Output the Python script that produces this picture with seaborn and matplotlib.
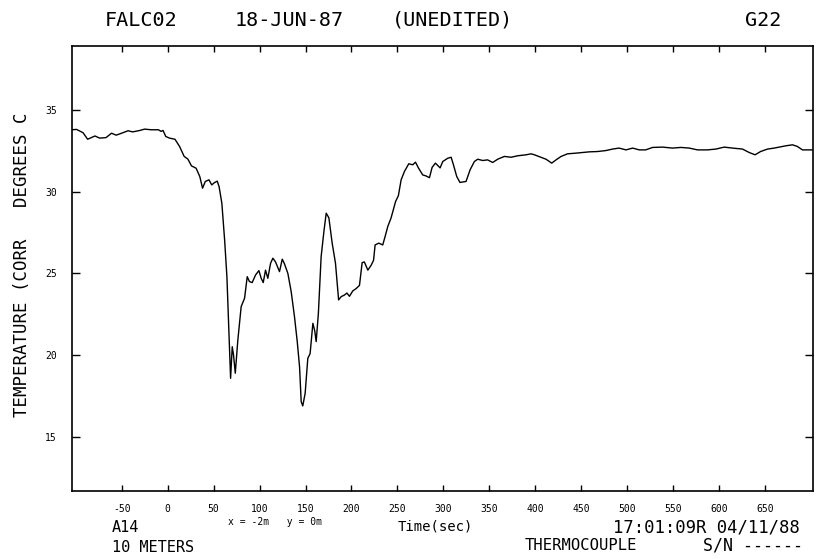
import numpy as np
import pandas as pd
import matplotlib
matplotlib.use("Agg")
import matplotlib.pyplot as plt
import seaborn as sns

# ---- data ----
time_sec = [-105, -99, -92, -87, -79, -74, -67, -61, -56, -50, -43, -38, -30, -25, -18, -10,
            -7, -5, -2, 2, 8, 13, 18, 22, 26, 31, 35, 38, 41, 45, 48, 51, 54, 56, 59, 62,
            64.5, 66.7, 68.5, 70.3, 71.7, 73.6, 76.4, 80, 83.7, 86.6, 89, 92, 95.6, 99.3,
            101.8, 104, 106.5, 109, 112, 114.5, 117.4, 121.7, 124.7, 127, 130.8, 134.4, 138,
            141, 143.5, 145.3, 147, 149.6, 152.5, 155, 158, 160, 161.6, 164, 167, 170, 172.5,
            175.4, 179, 182.6, 186, 188.8, 192.4, 195, 197.8, 201.4, 205, 208.7, 211.6, 214,
            217.8, 221.4, 224, 225.7, 229.7, 234, 236.6, 239.5, 243, 248, 251, 254, 257.6,
            262.3, 266.7, 269.6, 273, 277.5, 281, 284.8, 287.7, 291.3, 296.4, 299.3, 304.7,
            308.4, 310.9, 314.5, 318, 324.6, 329, 333.7, 337.3, 342.8, 348, 353.6, 359, 366.3,
            373.6, 380.8, 390, 395.3, 399, 406, 411.6, 417.8, 422.5, 428, 435, 444, 451.4,
            458.7, 467.7, 476.8, 484, 491, 498.6, 505.8, 513, 520, 527.5, 538.4, 549.2, 558.4,
            567.4, 576.4, 587.3, 596.4, 605.4, 614.5, 625.3, 632.6, 639, 645, 652.5, 659.8,
            665.2, 672.5, 679.7, 685, 690.5, 701.4]
temperature = [33.78, 33.80, 33.60, 33.20, 33.40, 33.27, 33.30, 33.57, 33.45, 33.57, 33.72,
               33.65, 33.74, 33.82, 33.78, 33.78, 33.68, 33.74, 33.37, 33.27, 33.20, 32.76,
               32.15, 31.99, 31.57, 31.43, 30.92, 30.21, 30.62, 30.72, 30.41, 30.55, 30.64,
               30.30, 29.29, 27.05, 24.80, 21.34, 18.59, 20.52, 20.01, 18.90, 20.93, 22.97,
               23.48, 24.80, 24.50, 24.44, 24.90, 25.17, 24.70, 24.44, 25.20, 24.70, 25.62,
               25.93, 25.70, 25.11, 25.87, 25.60, 25.00, 23.89, 22.36, 20.83, 19.30, 17.16,
               16.90, 17.67, 19.81, 20.10, 21.95, 21.50, 20.83, 22.57, 26.03, 27.56, 28.68,
               28.40, 26.85, 25.62, 23.38, 23.58, 23.68, 23.80, 23.60, 23.93, 24.07, 24.27,
               25.66, 25.70, 25.20, 25.50, 25.80, 26.74, 26.85, 26.74, 27.26, 27.87, 28.38,
               29.40, 29.75, 30.72, 31.23, 31.70, 31.64, 31.80, 31.43, 31.02, 30.96, 30.85,
               31.48, 31.74, 31.45, 31.84, 32.04, 32.10, 31.64, 30.92, 30.56, 30.62, 31.33,
               31.84, 31.98, 31.90, 31.94, 31.78, 31.98, 32.15, 32.10, 32.19, 32.25, 32.31,
               32.25, 32.10, 31.98, 31.74, 31.94, 32.15, 32.31, 32.35, 32.39, 32.43, 32.45,
               32.51, 32.60, 32.66, 32.55, 32.66, 32.55, 32.55, 32.70, 32.72, 32.66, 32.70,
               32.66, 32.55, 32.55, 32.60, 32.72, 32.66, 32.60, 32.39, 32.25, 32.45, 32.60,
               32.66, 32.72, 32.80, 32.86, 32.76, 32.55, 32.55]
x_ticks = [-50, 0, 50, 100, 150, 200, 250, 300, 350, 400, 450, 500, 550, 600, 650]
y_ticks = [15, 20, 25, 30, 35]

df = pd.DataFrame({"time": time_sec, "temp": temperature})

sns.set_style("white")
plt.rcParams["font.family"] = ["DejaVu Sans Mono", "DejaVu Sans"]
plt.rcParams["text.color"] = "black"

fig = plt.figure(figsize=(8.18, 5.59), dpi=100)
ax = fig.add_axes([72 / 818, 1 - 491 / 559, (813 - 72) / 818, (491 - 46) / 559])

sns.lineplot(data=df, x="time", y="temp", ax=ax, color="black", linewidth=1.0)

ax.set_xlim(-104, 702)
ax.set_ylim(11.7, 38.9)
ax.set_xticks(x_ticks)
ax.set_xticklabels([str(v) for v in x_ticks], fontsize=7)
ax.set_yticks(y_ticks)
ax.set_yticklabels([str(v) for v in y_ticks], fontsize=7)
ax.tick_params(axis="both", direction="in", top=True, right=True,
               bottom=True, left=True, width=1, colors="black")
ax.tick_params(axis="x", pad=9, length=4)
ax.tick_params(axis="y", pad=11, length=6)
for s in ax.spines.values():
    s.set_color("black")
    s.set_linewidth(1.2)
ax.set_xlabel("")
ax.set_ylabel("")

# header texts
fig.text(141 / 818, 1 - 20 / 559, "FALC02", fontsize=14.5, ha="center", va="center")
fig.text(289 / 818, 1 - 20 / 559, "18-JUN-87", fontsize=14.5, ha="center", va="center")
fig.text(453 / 818, 1 - 20 / 559, "(UNEDITED)", fontsize=14.5, ha="center", va="center")
fig.text(763 / 818, 1 - 20 / 559, "G22", fontsize=14.5, ha="center", va="center")

# y label
fig.text(22 / 818, 1 - 265 / 559, "TEMPERATURE (CORR   DEGREES C", fontsize=12.5,
         rotation=90, ha="center", va="center")

# footer texts
fig.text(112 / 818, 1 - 528 / 559, "A14", fontsize=11, ha="left", va="center")
fig.text(112 / 818, 1 - 547 / 559, "10 METERS", fontsize=11, ha="left", va="center")
fig.text(228 / 818, 1 - 522 / 559, "x = -2m   y = 0m", fontsize=7, ha="left", va="center")
fig.text(435 / 818, 1 - 527 / 559, "Time(sec)", fontsize=10, ha="center", va="center")
fig.text(800 / 818, 1 - 527 / 559, "17:01:09R 04/11/88", fontsize=12.4, ha="right", va="center")
fig.text(581 / 818, 1 - 546 / 559, "THERMOCOUPLE", fontsize=11.2, ha="center", va="center")
fig.text(703 / 818, 1 - 546 / 559, "S/N ------", fontsize=12, ha="left", va="center")

fig.savefig("out.png", dpi=100, facecolor="white")
